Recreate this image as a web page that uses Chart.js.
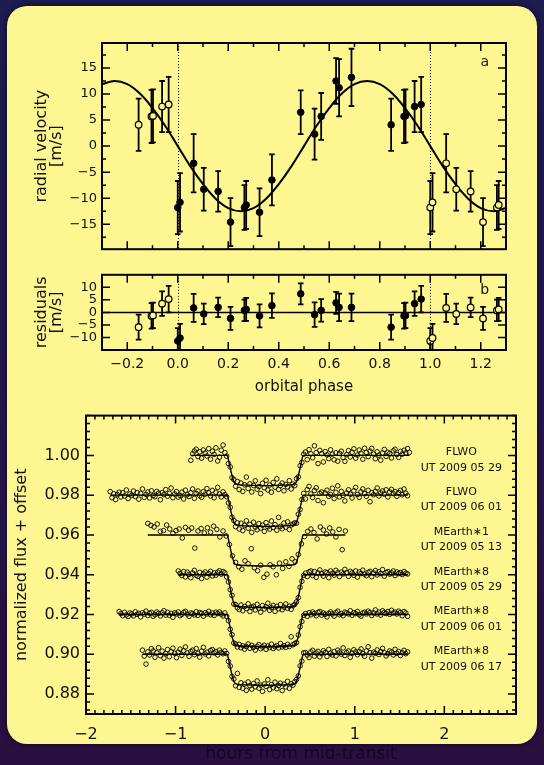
<!DOCTYPE html>
<html lang="en">
<head>
  <meta charset="UTF-8">
  <title>GJ 1214 radial velocities and transit light curves</title>
  <script src="https://cdn.jsdelivr.net/npm/chart.js"></script>
  <style>
    html, body { margin: 0; padding: 0; }
    body {
      width: 544px;
      height: 765px;
      overflow: hidden;
      position: relative;
      background: linear-gradient(to bottom, #1c1c50 0%, #221850 45%, #2c0f40 100%);
    }
    .panel {
      position: absolute;
      left: 7px;
      top: 6px;
      width: 530px;
      height: 738px;
      background: #fef690;
      border-radius: 20px;
      box-shadow: 0 0 6px rgba(0,0,0,0.6);
    }
    canvas { position: absolute; left: 0; }
    #rvChart { top: 0; }
    #resChart { top: 262px; }
    #lcChart { top: 400px; }
  </style>
</head>
<body>
  <div class="panel"></div>
  <canvas id="rvChart" width="544" height="262"></canvas>
  <canvas id="resChart" width="544" height="140"></canvas>
  <canvas id="lcChart" width="544" height="365"></canvas>

  <script>
    // ---- radial velocity data (orbital phase 0..1) ----
    const rvPhase    = [0.000, 0.009, 0.063, 0.103, 0.160, 0.209, 0.264, 0.271, 0.324, 0.373, 0.487,
                        0.542, 0.568, 0.627, 0.639, 0.688, 0.845, 0.896, 0.902, 0.938, 0.964];
    const rvValue    = [-11.8, -10.8, -3.3, -8.3, -8.7, -14.6, -11.8, -11.3, -12.7, -6.5, 6.5,
                        2.3, 5.7, 12.5, 11.2, 13.2, 4.1, 5.7, 5.8, 7.6, 8.0];
    const rvError    = [5.1, 5.6, 5.6, 4.1, 3.9, 4.6, 4.3, 4.6, 4.6, 4.9, 4.2,
                        4.9, 4.5, 4.4, 5.5, 5.5, 5.0, 5.1, 5.1, 4.9, 5.3];
    const rvResidual = [-11.4, -10.2, 1.8, -0.6, 2.0, -2.4, 0.8, 1.2, -1.4, 2.7, 7.4,
                        -0.9, 0.8, 3.8, 2.0, 2.0, -5.9, -1.4, -1.2, 3.5, 5.3];

    // circular orbit model
    const modelPhase = [-0.30, -0.25, -0.20, -0.15, -0.10, -0.05, 0.00, 0.05, 0.10, 0.15, 0.20,
                        0.25, 0.30, 0.35, 0.40, 0.45, 0.50, 0.55, 0.60, 0.65, 0.70, 0.75,
                        0.80, 0.85, 0.90, 0.95, 1.00, 1.05, 1.10, 1.15, 1.20, 1.25, 1.30];
    const modelRV    = [11.9, 12.5, 11.9, 10.1, 7.3, 3.9, 0, -3.9, -7.3, -10.1, -11.9,
                        -12.5, -11.9, -10.1, -7.3, -3.9, 0, 3.9, 7.3, 10.1, 11.9, 12.5,
                        11.9, 10.1, 7.3, 3.9, 0, -3.9, -7.3, -10.1, -11.9, -12.5, -11.9];

    const phaseTicks = [-0.2, 0.0, 0.2, 0.4, 0.6, 0.8, 1.0, 1.2];
    const rvTicks    = [-15, -10, -5, 0, 5, 10, 15];
    const resTicks   = [-10, -5, 0, 5, 10];

    // ---- transit light curves ----
    const curveNames   = ['FLWO', 'FLWO', 'MEarth\u22171', 'MEarth\u22178', 'MEarth\u22178', 'MEarth\u22178'];
    const curveDates   = ['UT 2009 05 29', 'UT 2009 06 01', 'UT 2009 05 13', 'UT 2009 05 29', 'UT 2009 06 01', 'UT 2009 06 17'];
    const curveOffsets = [1.00, 0.98, 0.96, 0.94, 0.92, 0.90];
    const curveStart   = [-0.83, -1.73, -1.31, -0.97, -1.63, -1.37];   // hours, first exposure
    const curveCadence = [0.02, 0.02, 0.035, 0.02, 0.02, 0.02];        // hours between exposures
    const curveDepth   = [152, 157, 156, 165, 162, 156];               // model depth, units of 1e-4

    // flux minus 1, in units of 1e-4
    const flwo0529 = [-25, 8, 22, 31, -6, 18, -14, 27, 12, -3,
      34, -19, 21, 5, 38, -28, -9, 26, 52, 14,
      -4, -41, -58, -112, -121, -155, -131, -172, -139, -181,
      -148, -109, -166, -143, -184, -151, -128, -170, -157, -192,
      -140, -163, -125, -174, -149, -185, -136, -160, -118, -171,
      -152, -139, -178, -146, -158, -127, -169, -144, -152, -117,
      -108, -52, -35, 6, 17, -21, 29, 8, -12, 48,
      14, -41, 25, 9, -33, 19, 3, -16, 28, 6,
      -22, 13, -29, 10, 21, -11, -30, 4, 24, -8,
      16, 33, -14, 2, 27, 11, -19, 36, 15, -6,
      22, 35, 7, -17, 18, 1, -24, 12, 30, -5,
      16, 9, -13, 23, 31, 4, -10, 20, 6, 26,
      12, 34, 15];
    const flwo0601 = [18, -13, 7, -22, 3, 15, -9, 12, -4, 26,
      -17, 6, -1, 21, -7, 13, -20, 9, 31, -11,
      4, 16, -14, 22, -2, -8, 19, 10, -23, 13,
      3, 28, -5, 9, 36, -13, 6, 18, -10, -1,
      15, -19, 25, 2, -7, 12, 31, -16, 9, 21,
      -3, -11, 18, 5, 33, 12, -4, 24, -13, 15,
      39, 6, -9, 17, 3, -8, -39, -61, -111, -127,
      -158, -139, -170, -141, -178, -152, -129, -166, -147, -187,
      -136, -160, -174, -143, -165, -151, -182, -138, -159, -171,
      -130, -163, -148, -176, -112, -157, -169, -140, -161, -134,
      -173, -150, -145, -139, -141, -96, -72, -22, 9, -19,
      28, 44, 6, -12, 23, 37, -27, 9, 16, -38,
      11, 25, -6, 3, 35, -17, 14, 47, -9, 19,
      -1, -29, 11, 27, 5, -14, 22, 39, 3, -11,
      17, 31, 8, -6, 24, -33, 13, 2, 19, 36,
      -4, 11, 21, 5, 27, -9, 16, 29, 8, 18,
      -6, 13, 24, 2, 31, 10, -3];
    const mearth1_0513 = [58, 48, 40, 55, 18, 22, 50, 30, 8, 22,
      30, -15, 38, 24, 35, -66, 20, 32, 10, 36,
      14, 44, 28, -10, 20, -5, -48, -105, -138, -160,
      -172, -130, -145, -69, -165, -180, -152, -213, -197, -150,
      -160, -200, -142, -168, -135, -158, -120, -135, -98, -45,
      -8, 18, 30, 12, -20, 40, 25, 5, 35, 15,
      -10, 28, -74, 20];
    const mearth8_0529 = [19, 7, -4, 16, -11, 13, 2, -15, 9, 22,
      -3, -8, 12, -19, 5, 14, -12, 6, 17, -6,
      9, -2, 13, 20, 3, 16, 10, -11, -36, -75,
      -104, -147, -150, -166, -175, -152, -181, -160, -170, -146,
      -185, -163, -158, -177, -149, -168, -188, -155, -172, -161,
      -143, -179, -166, -154, -184, -159, -171, -150, -176, -163,
      -147, -169, -158, -174, -156, -149, -136, -115, -63, -33,
      -3, 8, -9, 15, 19, -4, 16, -13, 9, 24,
      5, -7, 14, 11, -15, 19, 7, -2, 22, 10,
      -9, 13, 4, 27, 11, -8, 17, 9, -3, 19,
      -12, 14, 6, 23, 3, -5, 12, 17, -10, 9,
      21, -1, 15, 6, 26, -7, 11, 16, 3, 9,
      19, -4, 14, 6, 11, 1, 16, 8, 4];
    const mearth8_0601 = [15, 5, -6, 11, -2, -10, 8, 3, -7, 14,
      1, 6, -12, 9, 2, 17, -5, 7, 11, -9,
      -1, 13, 5, -7, 9, 19, -3, 11, -4, 6,
      -14, 8, 3, 13, -6, 1, 11, 16, 2, -9,
      8, 5, -2, 14, -4, 10, 6, -8, 9, 3,
      16, -1, 8, -5, 12, 5, 13, 2, -7, 8,
      -9, -31, -74, -101, -143, -148, -163, -150, -167, -157,
      -174, -161, -148, -170, -155, -165, -179, -160, -151, -172,
      -163, -154, -175, -158, -166, -149, -171, -162, -156, -168,
      -146, -163, -157, -165, -150, -161, -112, -152, -146, -141,
      -103, -61, -35, -4, 5, -9, 9, -1, 13, 5,
      -6, 11, 15, -3, 8, 1, -12, 6, 13, 3,
      -8, 10, 17, -1, 5, -6, 12, 8, 3, 19,
      -4, 10, 5, 15, -1, -8, 8, 12, 3, 17,
      10, -5, 8, 23, 3, 12, -3, 19, 10, 5,
      15, 1, 21, 8, 12, 3, 17, 10, -6, 15,
      8, -9];
    const mearth8_0617 = [21, -9, -49, 12, -3, 28, 17, -15, 8, 33,
      -7, 16, -19, 4, 24, -12, 13, 31, 5, -17,
      11, 26, -5, 18, 37, 7, -10, 14, 21, -2,
      29, 5, -14, 16, 35, 2, 11, -8, 19, 24,
      7, 14, -3, 21, 10, 3, 17, 4, -36, -59,
      -111, -124, -158, -96, -166, -143, -171, -150, -181, -139,
      -158, -175, -147, -163, -134, -170, -155, -186, -149, -161,
      -128, -177, -152, -168, -140, -173, -157, -145, -182, -150,
      -164, -136, -171, -148, -155, -138, -126, -109, -58, -34,
      7, 9, -4, -16, 12, 20, -9, 6, 15, -13,
      3, 18, 9, -11, 25, 5, -3, 14, -8, 21,
      11, 1, 32, -6, 9, 17, -15, 5, 23, 12,
      -2, 14, 27, 3, -10, 17, 38, 8, -19, 11,
      5, 22, -1, 14, 30, 8, -8, 3, 17, 11,
      -3, 25, 5, 14, -6, 8, 20, 3, 12];
    const curveFlux = [flwo0529, flwo0601, mearth1_0513, mearth8_0529, mearth8_0601, mearth8_0617];

    // transit model shape (fraction of full depth) versus hours from mid-transit
    const profileT = [-0.425, -0.40, -0.38, -0.36, -0.34, -0.32, -0.20, 0.00, 0.20, 0.32, 0.34, 0.36, 0.38, 0.40, 0.425];
    const profileF = [0, 0.28, 0.55, 0.78, 0.92, 0.96, 0.985, 1.0, 0.985, 0.96, 0.92, 0.78, 0.55, 0.28, 0];

    const hourTicks = [-2, -1, 0, 1, 2];
    const fluxTicks = [0.88, 0.90, 0.92, 0.94, 0.96, 0.98, 1.00];

    // ---- helpers ----
    const FONT = "'DejaVu Sans', sans-serif";
    const INK = '#111';
    const fmtSigned = (v, d) => (v < -1e-9 ? '\u2212' : '') + Math.abs(v).toFixed(d);

    function minorValues(min, max, step, majors) {
      const out = [];
      for (let i = Math.ceil(min / step - 1e-6); i * step <= max + 1e-9; i++) {
        const v = +(i * step).toFixed(6);
        if (!majors.some(m => Math.abs(m - v) < 1e-6)) out.push(v);
      }
      return out;
    }

    // IDL style box: inward ticks on all four sides, error bars, dotted markers, text notes
    const idlFrame = {
      id: 'idlFrame',
      beforeDatasetsDraw(chart, args, opts) {
        const { ctx, chartArea: a, scales: { x, y } } = chart;
        ctx.save();
        ctx.beginPath();
        ctx.rect(a.left, a.top, a.right - a.left, a.bottom - a.top);
        ctx.clip();
        ctx.strokeStyle = '#000';
        (opts.vlines || []).forEach(v => {
          const px = Math.round(x.getPixelForValue(v)) + 0.5;
          ctx.lineWidth = 1;
          ctx.setLineDash([1, 2]);
          ctx.beginPath();
          ctx.moveTo(px, a.top);
          ctx.lineTo(px, a.bottom);
          ctx.stroke();
        });
        ctx.setLineDash([]);
        ctx.lineWidth = 1.8;
        chart.data.datasets.forEach((ds, i) => {
          if (!ds.errors) return;
          const meta = chart.getDatasetMeta(i);
          meta.data.forEach((pt, j) => {
            const v = ds.data[j].y, e = ds.errors[j];
            const y1 = y.getPixelForValue(v + e), y2 = y.getPixelForValue(v - e);
            ctx.beginPath();
            ctx.moveTo(pt.x, y1); ctx.lineTo(pt.x, y2);
            ctx.moveTo(pt.x - 2.8, y1); ctx.lineTo(pt.x + 2.8, y1);
            ctx.moveTo(pt.x - 2.8, y2); ctx.lineTo(pt.x + 2.8, y2);
            ctx.stroke();
          });
        });
        ctx.restore();
      },
      afterDatasetsDraw(chart, args, opts) {
        const { ctx, chartArea: a, scales: { x, y } } = chart;
        ctx.save();
        ctx.strokeStyle = '#000';
        ctx.lineWidth = 2;
        ctx.strokeRect(a.left, a.top, a.right - a.left, a.bottom - a.top);
        ctx.lineWidth = 1.5;
        ctx.beginPath();
        const xTick = (v, len) => {
          const px = x.getPixelForValue(v);
          ctx.moveTo(px, a.bottom); ctx.lineTo(px, a.bottom - len);
          ctx.moveTo(px, a.top); ctx.lineTo(px, a.top + len);
        };
        const yTick = (v, len) => {
          const py = y.getPixelForValue(v);
          ctx.moveTo(a.left, py); ctx.lineTo(a.left + len, py);
          ctx.moveTo(a.right, py); ctx.lineTo(a.right - len, py);
        };
        opts.xMajor.forEach(v => xTick(v, opts.majorLen));
        opts.yMajor.forEach(v => yTick(v, opts.majorLen));
        if (opts.xMinorStep) minorValues(x.min, x.max, opts.xMinorStep, opts.xMajor).forEach(v => xTick(v, opts.minorLen));
        if (opts.yMinorStep) minorValues(y.min, y.max, opts.yMinorStep, opts.yMajor).forEach(v => yTick(v, opts.minorLen));
        ctx.stroke();
        ctx.fillStyle = INK;
        ctx.textAlign = 'center';
        ctx.textBaseline = 'middle';
        (opts.notes || []).forEach(n => {
          ctx.font = n.size + 'px ' + FONT;
          ctx.fillText(n.text, x.getPixelForValue(n.x), y.getPixelForValue(n.y));
        });
        ctx.restore();
      }
    };

    function leftAxis(min, max, ticks, width, fmt, tickSize, pad, title) {
      return {
        min: min, max: max,
        afterFit: s => { s.width = width; },
        afterBuildTicks: s => { s.ticks = ticks.map(v => ({ value: v })); },
        grid: { display: false, drawTicks: false },
        border: { display: false },
        ticks: { autoSkip: false, padding: pad, color: INK, font: { family: FONT, size: tickSize }, callback: fmt },
        title: title
      };
    }

    const baseOptions = {
      responsive: false,
      animation: false,
      events: [],
      plugins: { legend: { display: false }, tooltip: { enabled: false } }
    };

    // duplicated points one cycle away, shown as open circles
    function wrapped(values) {
      const out = [];
      rvPhase.forEach((p, i) => {
        const q = p < 0.5 ? p + 1 : p - 1;
        if (q > -0.33 && q < 1.33) out.push({ x: q, y: values[i], e: rvError[i] });
      });
      return out;
    }
    const rvOpen = wrapped(rvValue);
    const resOpen = wrapped(rvResidual);

    // ---- panel a: radial velocity ----
    new Chart(document.getElementById('rvChart'), {
      type: 'scatter',
      data: {
        datasets: [
          {
            data: modelPhase.map((p, i) => ({ x: p, y: modelRV[i] })),
            showLine: true, pointRadius: 0, borderColor: '#000', borderWidth: 2,
            tension: 0.4, order: 2
          },
          {
            data: rvOpen.map(d => ({ x: d.x, y: d.y })), errors: rvOpen.map(d => d.e),
            pointRadius: 3.3, borderWidth: 1.2, borderColor: '#000', backgroundColor: '#fef690', order: 1
          },
          {
            data: rvPhase.map((p, i) => ({ x: p, y: rvValue[i] })), errors: rvError,
            pointRadius: 3.3, borderWidth: 1, borderColor: '#000', backgroundColor: '#000', order: 0
          }
        ]
      },
      options: {
        ...baseOptions,
        layout: { padding: { top: 43, right: 38, bottom: 4, left: 0 } },
        plugins: {
          ...baseOptions.plugins,
          idlFrame: {
            xMajor: phaseTicks, xMinorStep: 0.1, yMajor: rvTicks, yMinorStep: 2.5,
            majorLen: 8, minorLen: 4, vlines: [0, 1],
            notes: [{ x: 1.216, y: 16.1, text: 'a', size: 14 }]
          }
        },
        scales: {
          x: { type: 'linear', min: -0.3, max: 1.3, display: false },
          y: leftAxis(-19.8, 19.8, rvTicks, 102, v => fmtSigned(v, 0), 13, 5, {
            display: true, text: ['radial velocity', '[m/s]'], color: INK,
            font: { family: FONT, size: 16, lineHeight: 0.94 }, padding: { top: 34.5, bottom: 0 }
          })
        }
      },
      plugins: [idlFrame]
    });

    // ---- panel b: residuals ----
    new Chart(document.getElementById('resChart'), {
      type: 'scatter',
      data: {
        datasets: [
          {
            data: [{ x: -0.3, y: 0 }, { x: 1.3, y: 0 }],
            showLine: true, pointRadius: 0, borderColor: '#000', borderWidth: 1.5, order: 2
          },
          {
            data: resOpen.map(d => ({ x: d.x, y: d.y })), errors: resOpen.map(d => d.e),
            pointRadius: 3.3, borderWidth: 1.2, borderColor: '#000', backgroundColor: '#fef690', order: 1
          },
          {
            data: rvPhase.map((p, i) => ({ x: p, y: rvResidual[i] })), errors: rvError,
            pointRadius: 3.3, borderWidth: 1, borderColor: '#000', backgroundColor: '#000', order: 0
          }
        ]
      },
      options: {
        ...baseOptions,
        layout: { padding: { top: 4, right: 38, bottom: 0, left: 0 } },
        plugins: {
          ...baseOptions.plugins,
          idlFrame: {
            xMajor: phaseTicks, xMinorStep: 0.1, yMajor: resTicks, yMinorStep: null,
            majorLen: 8, minorLen: 4, vlines: [0, 1],
            notes: [{ x: 1.216, y: 8.9, text: 'b', size: 14 }]
          }
        },
        scales: {
          x: {
            type: 'linear', min: -0.3, max: 1.3,
            afterFit: s => { s.height = 52; },
            afterBuildTicks: s => { s.ticks = phaseTicks.map(v => ({ value: v })); },
            grid: { display: false, drawTicks: false },
            border: { display: false },
            ticks: { autoSkip: false, maxRotation: 0, padding: 5.6, color: INK, font: { family: FONT, size: 14 }, callback: v => fmtSigned(v, 1) },
            title: { display: true, text: 'orbital phase', color: INK, font: { family: FONT, size: 15 }, padding: { top: 0, bottom: 6.3 } }
          },
          y: leftAxis(-15, 15, resTicks, 102, v => fmtSigned(v, 0), 13, 5, {
            display: true, text: ['residuals', '[m/s]'], color: INK,
            font: { family: FONT, size: 16, lineHeight: 0.94 }, padding: { top: 34.5, bottom: 0 }
          })
        }
      },
      plugins: [idlFrame]
    });

    // ---- panel c: light curves ----
    const lcDatasets = [];
    const lcNotes = [];
    curveFlux.forEach((flux, k) => {
      const t0 = curveStart[k], dt = curveCadence[k], base = curveOffsets[k];
      const tEnd = t0 + (flux.length - 1) * dt;
      lcDatasets.push({
        data: [{ x: t0, y: base }]
          .concat(profileT.map((t, i) => ({ x: t, y: base - curveDepth[k] * profileF[i] * 1e-4 })))
          .concat([{ x: tEnd, y: base }]),
        showLine: true, pointRadius: 0, borderColor: '#000', borderWidth: 1.4,
        cubicInterpolationMode: 'monotone', order: 0
      });
      lcDatasets.push({
        data: flux.map((f, i) => ({ x: t0 + i * dt, y: base + f * 1e-4 })),
        pointRadius: 2.3, borderWidth: 0.9, borderColor: '#000', backgroundColor: 'rgba(0,0,0,0)', order: 1
      });
      lcNotes.push({ x: 2.19, y: base + 0.0015, text: curveNames[k], size: 11 });
      lcNotes.push({ x: 2.19, y: base - 0.0062, text: curveDates[k], size: 11 });
    });

    new Chart(document.getElementById('lcChart'), {
      type: 'scatter',
      data: { datasets: lcDatasets },
      options: {
        ...baseOptions,
        layout: { padding: { top: 10, right: 28, bottom: 0, left: 0 } },
        plugins: {
          ...baseOptions.plugins,
          idlFrame: {
            xMajor: hourTicks, xMinorStep: 0.1, yMajor: fluxTicks, yMinorStep: 0.004,
            majorLen: 8, minorLen: 4, notes: lcNotes
          }
        },
        scales: {
          x: {
            type: 'linear', min: -2, max: 2.8,
            afterFit: s => { s.height = 51; },
            afterBuildTicks: s => { s.ticks = hourTicks.map(v => ({ value: v })); },
            grid: { display: false, drawTicks: false },
            border: { display: false },
            ticks: { autoSkip: false, maxRotation: 0, padding: 11.4, color: INK, font: { family: FONT, size: 16 }, callback: v => fmtSigned(v, 0) },
            title: { display: true, text: 'hours from mid-transit', color: '#120a20', font: { family: FONT, size: 17 }, padding: { top: 0, bottom: 0 } }
          },
          y: leftAxis(0.87, 1.02, fluxTicks, 86, v => v.toFixed(2), 16, 6, {
            display: true, text: 'normalized flux + offset', color: INK,
            font: { family: FONT, size: 16 }, padding: { top: 12.4, bottom: 0 }
          })
        }
      },
      plugins: [idlFrame]
    });
  </script>
</body>
</html>
